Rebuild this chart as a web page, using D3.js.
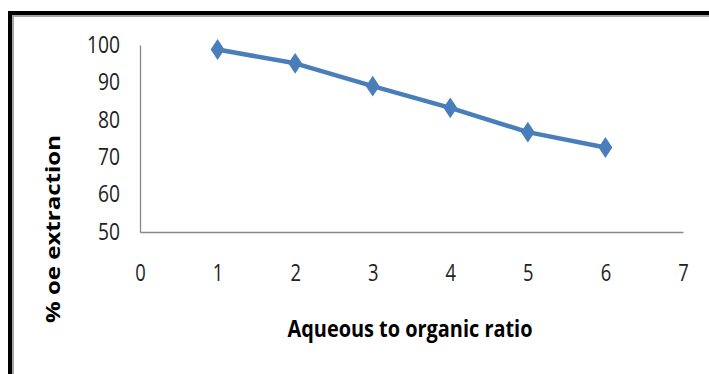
<!DOCTYPE html>
<html>
<head>
<meta charset="utf-8">
<script src="https://cdn.jsdelivr.net/npm/d3@7"></script>
<style>
  body { margin: 0; background: #fff; }
  svg { display: block; }
</style>
</head>
<body>
<svg id="chartSVG" width="709" height="374"></svg>
<script>
// data
const ratios = [1, 2, 3, 4, 5, 6];
const extraction = [98.8, 95.1, 89.0, 83.2, 76.7, 72.6];
const xTicks = [0, 1, 2, 3, 4, 5, 6, 7];
const yTicks = [50, 60, 70, 80, 90, 100];
const xTitle = "Aqueous to organic ratio";
const yTitle = "% oe extraction";

const margin = { top: 45, right: 26, bottom: 142, left: 140 };
const width = 709 - margin.left - margin.right;
const height = 374 - margin.top - margin.bottom;

const svg = d3.select("#chartSVG");

// page frame (black rule with grey shadow)
svg.append("line").attr("x1", 10).attr("x2", 10).attr("y1", 11).attr("y2", 374)
  .attr("stroke", "#000").attr("stroke-width", 4);
svg.append("line").attr("x1", 8).attr("x2", 709).attr("y1", 13).attr("y2", 13)
  .attr("stroke", "#000").attr("stroke-width", 4);
svg.append("line").attr("x1", 13).attr("x2", 13).attr("y1", 15).attr("y2", 374)
  .attr("stroke", "#a6a6a6").attr("stroke-width", 2);
svg.append("line").attr("x1", 12).attr("x2", 709).attr("y1", 16).attr("y2", 16)
  .attr("stroke", "#a6a6a6").attr("stroke-width", 2);

const g = svg.append("g").attr("transform", `translate(${margin.left},${margin.top})`);

const x = d3.scaleLinear().domain([0, 7]).range([0, width]);
const y = d3.scaleLinear().domain([50, 100]).range([height, 0]);

const font = "'Open Sans', 'Noto Sans', sans-serif";

// x axis
const xAxis = g.append("g")
  .attr("transform", `translate(0,${height})`)
  .call(d3.axisBottom(x).tickValues(xTicks).tickSize(0).tickPadding(36).tickFormat(d3.format("d")));
xAxis.select(".domain").attr("stroke", "#898989").attr("stroke-width", 1.3);
xAxis.selectAll("text")
  .attr("dy", "0.55em")
  .attr("font-family", font).attr("font-size", 23).attr("fill", "#222")
  .attr("textLength", d => String(d).length * 10.5)
  .attr("lengthAdjust", "spacingAndGlyphs");

// y axis
const yAxis = g.append("g")
  .call(d3.axisLeft(y).tickValues(yTicks).tickSize(0).tickPadding(20));
yAxis.select(".domain").attr("stroke", "#898989").attr("stroke-width", 1.3);
yAxis.selectAll("text")
  .attr("font-family", font).attr("font-size", 23).attr("fill", "#222")
  .attr("textLength", d => String(d).length * 11)
  .attr("lengthAdjust", "spacingAndGlyphs");

// series line
const pts = ratios.map((r, i) => [r, extraction[i]]);
g.append("path")
  .datum(pts)
  .attr("fill", "none")
  .attr("stroke", "#4a7ebb")
  .attr("stroke-width", 4.5)
  .attr("stroke-linejoin", "round")
  .attr("d", d3.line().x(d => x(d[0])).y(d => y(d[1])));

// diamond markers
g.selectAll(".marker")
  .data(pts)
  .join("path")
  .attr("class", "marker")
  .attr("transform", d => `translate(${x(d[0])},${y(d[1])}) scale(1.15,1)`)
  .attr("d", d3.symbol(d3.symbolDiamond, 125)())
  .attr("fill", "#4a7ebb");

// axis titles
svg.append("text")
  .attr("x", 410).attr("y", 337)
  .attr("text-anchor", "middle")
  .attr("font-family", font).attr("font-weight", "bold").attr("font-size", 24)
  .attr("textLength", 245).attr("lengthAdjust", "spacingAndGlyphs")
  .text(xTitle);

svg.append("text")
  .attr("transform", "translate(60,229) scale(0.78,1) rotate(-90)")
  .attr("text-anchor", "middle")
  .attr("font-family", font).attr("font-weight", "bold").attr("font-size", 26)
  .attr("textLength", 188).attr("lengthAdjust", "spacingAndGlyphs")
  .text(yTitle);
</script>
</body>
</html>
